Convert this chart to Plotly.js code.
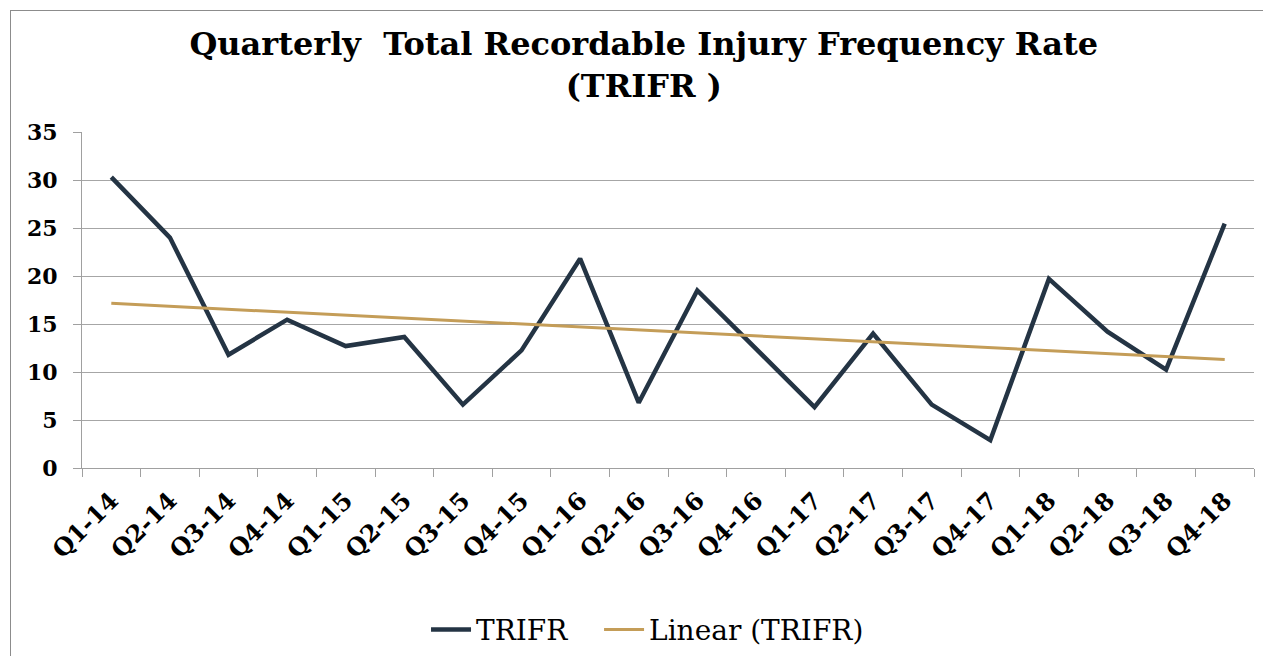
<!DOCTYPE html>
<html>
<head>
<meta charset="utf-8">
<script src="https://cdn.plot.ly/plotly-3.0.1.min.js"></script>
<style>
  html, body { margin: 0; padding: 0; background: #fff; overflow: hidden; }
  #frame { position: absolute; left: 10px; top: 10px; width: 1260px; height: 650px;
           border-left: 1px solid #8c8c8c; border-top: 1px solid #8c8c8c; }
  #chart { position: absolute; left: 0; top: 0; width: 1253px; height: 646px; }
</style>
</head>
<body>
<div id="frame"><div id="chart"></div></div>
<script>
const quarters = ["Q1-14","Q2-14","Q3-14","Q4-14","Q1-15","Q2-15","Q3-15","Q4-15",
                  "Q1-16","Q2-16","Q3-16","Q4-16","Q1-17","Q2-17","Q3-17","Q4-17",
                  "Q1-18","Q2-18","Q3-18","Q4-18"];
const trifr = [30.3, 24.0, 11.8, 15.45, 12.7, 13.65, 6.6, 12.25,
               21.8, 6.8, 18.5, 12.4, 6.35, 14.0, 6.6, 2.9,
               19.7, 14.2, 10.25, 25.45];
const trendX = ["Q1-14", "Q4-18"];
const trendY = [17.15, 11.3];
const yTicks = [0, 5, 10, 15, 20, 25, 30, 35];

const serif = "'DejaVu Serif', 'Liberation Serif', serif";

const traces = [
  { type: "scatter", mode: "lines", name: "TRIFR\u00a0\u00a0\u00a0", x: quarters, y: trifr,
    line: { color: "#243444", width: 4.5 } },
  { type: "scatter", mode: "lines", name: "Linear (TRIFR)", x: trendX, y: trendY,
    line: { color: "#c49d58", width: 3 } }
];

const layout = {
  width: 1253, height: 646,
  margin: { l: 71, r: 10, t: 121, b: 189 },
  paper_bgcolor: "#ffffff", plot_bgcolor: "#ffffff",
  showlegend: true,
  title: {
    text: "<b>Quarterly  Total Recordable Injury Frequency Rate<br>(TRIFR )</b>",
    font: { family: serif, size: 32, color: "#000000" },
    x: 0.505, xanchor: "center", xref: "container",
    y: 0.932, yanchor: "top", yref: "container"
  },
  xaxis: {
    type: "category", categoryorder: "array", categoryarray: quarters,
    range: [-0.5, quarters.length - 0.5], automargin: false,
    showgrid: false, showline: true, linecolor: "#a0a0a0", linewidth: 1,
    ticks: "outside", tickson: "boundaries", ticklen: 8, tickcolor: "#a0a0a0",
    tickangle: -45, ticklabelstandoff: 8,
    tickfont: { family: serif, size: 24, color: "#000000", weight: "bold" },
    zeroline: false
  },
  yaxis: {
    range: [0, 35], tickvals: yTicks, ticktext: yTicks.map(String), automargin: false,
    showgrid: true, gridcolor: "#a6a6a6", gridwidth: 1,
    showline: true, linecolor: "#a0a0a0", linewidth: 1,
    ticks: "outside", ticklen: 8, tickcolor: "#a0a0a0",
    ticklabelstandoff: 11,
    tickfont: { family: serif, size: 22, color: "#000000", weight: "bold" },
    zeroline: false
  },
  legend: {
    orientation: "h", xref: "container", x: 0.508, xanchor: "center",
    yref: "container", y: 0.042, yanchor: "middle",
    font: { family: serif, size: 28, color: "#000000" },
    itemwidth: 40, traceorder: "normal"
  }
};

Plotly.newPlot("chart", traces, layout, { displayModeBar: false, staticPlot: true });
</script>
</body>
</html>
